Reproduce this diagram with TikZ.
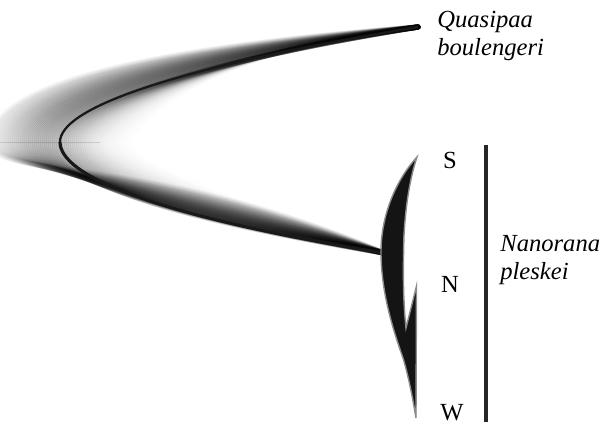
\documentclass[tikz,border=0pt]{standalone}
\usepackage{fontspec}
\setmainfont{Liberation Serif}
\usetikzlibrary{positioning}

\begin{document}
\begin{tikzpicture}[x=0.02cm, y=-0.02cm,
        cloudline/.style={black, line width=3pt, line cap=round},
        treeline/.style={black!90, line width=1.6pt},
        clade/.style={fill=black!92, draw=black!45, line width=0.8pt},
        taxon/.style={font=\fontsize{14}{16}\selectfont\itshape, align=left, anchor=west, inner sep=0pt},
        pop/.style={font=\fontsize{14}{16}\selectfont, inner sep=0pt},
        bar/.style={black!85, line width=2.3pt}
    ]
        \useasboundingbox (0,0) rectangle (600,424);

        % Tree coordinates
        \coordinate (tipQ) at (418,27);
        \coordinate (root) at (60,142);
        \coordinate (join) at (384,253);
        \coordinate (rootL) at (0,142);
        \coordinate (rootR) at (100,142);

        % Posterior cloud of trees
        \foreach \d in {-70,-68,...,70} {
            \pgfmathsetmacro\vx{60-\d}
            \pgfmathsetmacro\ad{abs(\d)}
            \pgfmathsetmacro\uy{110-0.3*\d}
            \pgfmathsetmacro\ux{160-0.5*\d}
            \pgfmathsetmacro\uv{70-0.3*\ad}
            \pgfmathsetmacro\ly{\d>0 ? 180 : 178+0.3*\d}
            \pgfmathsetmacro\my{\d>0 ? 215-0.9*\d : 215+0.6*\d}
            \pgfmathsetmacro\tt{(\d-15)/45}
            \pgfmathsetmacro\op{0.12*exp(-\tt*\tt)}
            \draw[cloudline, opacity=\op] (tipQ) .. controls (\ux,\uv) and (\vx,\uy) .. (\vx,142)
                .. controls (\vx,\ly) and (150,\my) .. (join);
        }
        \draw[black, opacity=0.12, line width=0.4pt] (rootL) -- (rootR);

        % Consensus tree
        \draw[treeline, line width=1.3pt] (tipQ) .. controls (160,70) and (60,110) .. (root);
        \draw[treeline, line width=1.8pt] (root) .. controls (60,175) and (150,215) .. (join);

        % Nanorana clade
        \draw[clade] (417,157) .. controls (396,180) and (381,215) .. (381,252)
            .. controls (381,295) and (395,335) .. (403,358)
            .. controls (409,378) and (413,400) .. (416,418)
            -- (416.5,286) -- (406,328)
            .. controls (403,300) and (403,270) .. (404,235)
            .. controls (406,200) and (411,175) .. (417,157) -- cycle;

        % Labels
        \node[taxon] (quasi) at (437,36) {Quasipaa\\boulengeri};
        \node[pop] (S) at (450,160) {S};
        \node[pop] (N) at (450,284) {N};
        \node[pop] (W) at (452,413) {W};
        \coordinate (bartop) at (486,145);
        \coordinate (barbot) at (486,422);
        \draw[bar] (bartop) -- (barbot);
        \node[taxon] (nano) at (500,260) {Nanorana\\pleskei};
    \end{tikzpicture}
\end{document}
